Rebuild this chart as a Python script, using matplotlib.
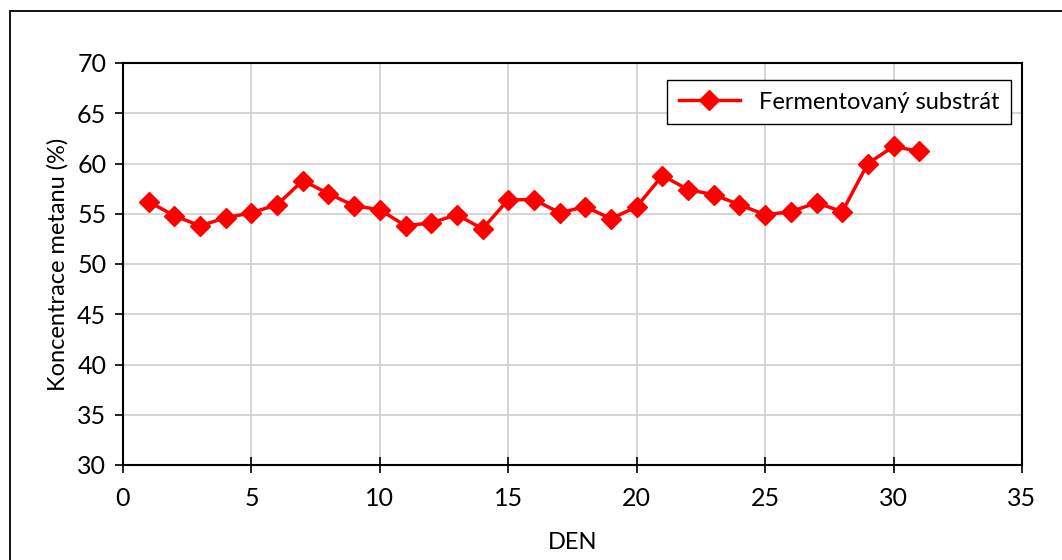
import numpy as np
import matplotlib
matplotlib.use("Agg")
import matplotlib.pyplot as plt
from matplotlib.patches import Rectangle

plt.rcParams['font.family'] = ['Lato', 'DejaVu Sans']

# data
days = [1, 2, 3, 4, 5, 6, 7, 8, 9, 10, 11, 12, 13, 14, 15, 16,
        17, 18, 19, 20, 21, 22, 23, 24, 25, 26, 27, 28, 29, 30, 31]
methane = [56.2, 54.8, 53.8, 54.6, 55.1, 55.9, 58.3, 57.0, 55.8, 55.4, 53.8, 54.1,
           54.9, 53.5, 56.4, 56.4, 55.1, 55.7, 54.5, 55.7, 58.8, 57.4, 56.9, 55.9,
           54.9, 55.2, 56.1, 55.2, 60.0, 61.7, 61.2]
series_name = "Fermentovaný substrát"
x_ticks = [0, 5, 10, 15, 20, 25, 30, 35]
y_ticks = [30, 35, 40, 45, 50, 55, 60, 65, 70]

fig = plt.figure(figsize=(10.62, 5.6), dpi=100)
ax = fig.add_axes([123/1062, 95/560, 899/1062, 402/560])

# outer chart border (cut off at right/bottom like the original)
fig.patches.append(Rectangle((10/1062, -0.1), 1.2, (549+56)/560, transform=fig.transFigure,
                             fill=False, edgecolor="black", linewidth=1.3))

ax.plot(days, methane, color="red", linewidth=2.5, marker="D", markersize=10,
        markeredgecolor="red", markerfacecolor="red", label=series_name)

ax.set_xlim(0, 35)
ax.set_ylim(30, 70)
ax.set_xticks(x_ticks)
ax.set_yticks(y_ticks)
ax.grid(True, color="#d0d0d0", linewidth=1.2)
ax.set_axisbelow(True)
for s in ax.spines.values():
    s.set_linewidth(1.5)
    s.set_color("black")
ax.tick_params(axis="y", direction="out", length=6, width=1.2, labelsize=18, pad=6)
ax.tick_params(axis="x", direction="inout", length=12, width=1.2, labelsize=18, pad=10)

ax.set_xlabel("DEN", fontsize=17, labelpad=16)
ax.set_ylabel("Koncentrace metanu (%)", fontsize=17, labelpad=6)

leg = ax.legend(loc="upper right", bbox_to_anchor=(0.988, 0.958), fontsize=17,
                frameon=True, fancybox=False, edgecolor="black", handlelength=2.6,
                borderpad=0.5, borderaxespad=0, framealpha=1)
leg.get_frame().set_linewidth(1.0)

fig.savefig("out.png", dpi=100)
